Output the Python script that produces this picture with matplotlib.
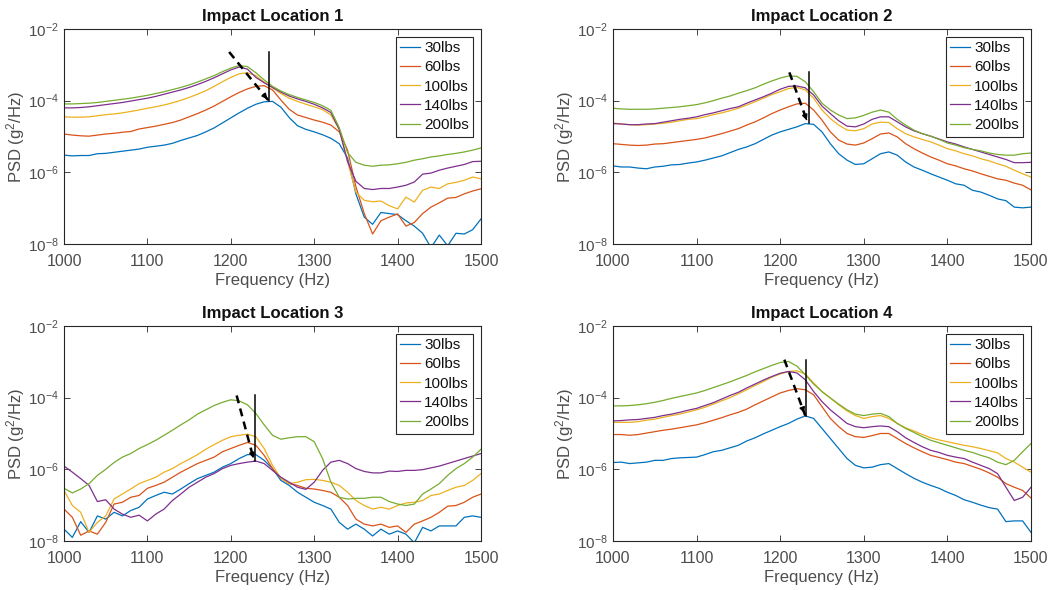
import numpy as np
import matplotlib.pyplot as plt
from matplotlib.ticker import FixedLocator, NullLocator, LogFormatterSciNotation

plt.rcParams['font.family'] = ['Liberation Sans', 'DejaVu Sans']
plt.rcParams['mathtext.fontset'] = 'custom'
plt.rcParams['mathtext.rm'] = 'Liberation Sans'
plt.rcParams['mathtext.it'] = 'Liberation Sans:italic'

# frequency grid (Hz), 10 Hz steps
freq = np.arange(1000, 1501, 10)
loads = ['30lbs', '60lbs', '100lbs', '140lbs', '200lbs']
colors = ['#0072BD', '#D95319', '#EDB120', '#7E2F8E', '#77AC30']

# PSD, as log10(g^2/Hz)
p1_30 = [-5.52, -5.54, -5.53, -5.53, -5.48, -5.47, -5.44, -5.41, -5.38, -5.35,
         -5.30, -5.27, -5.24, -5.19, -5.11, -5.04, -4.97, -4.87, -4.76, -4.62,
         -4.48, -4.34, -4.21, -4.10, -4.03, -4.02, -4.18, -4.47, -4.70, -4.80,
         -4.87, -4.95, -5.05, -5.20, -5.60, -6.60, -7.25, -7.45, -7.12, -7.15,
         -7.18, -7.35, -7.50, -7.70, -8.10, -7.75, -8.05, -7.70, -7.72, -7.60, -7.30]
p1_60 = [-4.93, -4.96, -4.98, -4.99, -4.96, -4.93, -4.91, -4.88, -4.86, -4.79,
         -4.75, -4.71, -4.66, -4.61, -4.54, -4.45, -4.36, -4.26, -4.15, -4.02,
         -3.89, -3.77, -3.67, -3.60, -3.58, -3.70, -3.98, -4.24, -4.40, -4.47,
         -4.54, -4.60, -4.68, -4.87, -5.38, -6.40, -7.15, -7.72, -7.35, -7.25,
         -7.16, -7.50, -7.40, -7.15, -6.97, -6.85, -6.72, -6.70, -6.60, -6.52, -6.46]
p1_100 = [-4.45, -4.46, -4.46, -4.45, -4.42, -4.39, -4.37, -4.34, -4.30, -4.26,
          -4.21, -4.17, -4.12, -4.06, -3.99, -3.91, -3.82, -3.72, -3.60, -3.47,
          -3.35, -3.25, -3.22, -3.30, -3.48, -3.64, -3.80, -3.93, -4.02, -4.10,
          -4.17, -4.25, -4.40, -4.80, -5.70, -6.55, -6.78, -6.82, -6.80, -6.93,
          -7.02, -6.69, -6.83, -6.50, -6.41, -6.45, -6.32, -6.28, -6.22, -6.13, -6.18]
p1_140 = [-4.20, -4.20, -4.19, -4.17, -4.14, -4.11, -4.08, -4.05, -4.01, -3.97,
          -3.93, -3.88, -3.82, -3.76, -3.70, -3.63, -3.55, -3.46, -3.36, -3.25,
          -3.14, -3.06, -3.12, -3.35, -3.50, -3.63, -3.76, -3.87, -3.95, -4.02,
          -4.10, -4.20, -4.33, -4.80, -5.70, -6.25, -6.45, -6.48, -6.45, -6.45,
          -6.41, -6.36, -6.27, -6.05, -6.02, -5.94, -5.88, -5.83, -5.78, -5.70, -5.69]
p1_200 = [-4.09, -4.09, -4.08, -4.07, -4.05, -4.02, -3.99, -3.96, -3.93, -3.89,
          -3.85, -3.80, -3.75, -3.69, -3.63, -3.56, -3.48, -3.39, -3.30, -3.19,
          -3.09, -3.02, -3.05, -3.22, -3.42, -3.60, -3.73, -3.83, -3.91, -3.98,
          -4.05, -4.14, -4.27, -4.75, -5.45, -5.72, -5.80, -5.83, -5.80, -5.79,
          -5.76, -5.72, -5.66, -5.62, -5.57, -5.54, -5.50, -5.47, -5.43, -5.38, -5.32]

p2_30 = [-5.82, -5.85, -5.85, -5.88, -5.90, -5.85, -5.83, -5.79, -5.78, -5.74,
         -5.71, -5.66, -5.60, -5.54, -5.45, -5.36, -5.29, -5.20, -5.08, -4.96,
         -4.87, -4.80, -4.73, -4.64, -4.66, -4.87, -5.20, -5.48, -5.66, -5.78,
         -5.76, -5.62, -5.48, -5.43, -5.52, -5.71, -5.85, -5.94, -6.04, -6.13,
         -6.22, -6.32, -6.36, -6.50, -6.55, -6.64, -6.74, -6.79, -6.97, -6.99, -6.97]
p2_60 = [-5.20, -5.22, -5.24, -5.25, -5.24, -5.21, -5.20, -5.17, -5.14, -5.11,
         -5.08, -5.04, -4.98, -4.92, -4.85, -4.78, -4.68, -4.59, -4.48, -4.36,
         -4.26, -4.17, -4.09, -4.07, -4.26, -4.54, -4.87, -5.10, -5.21, -5.24,
         -5.18, -5.06, -4.93, -4.90, -5.01, -5.20, -5.34, -5.46, -5.57, -5.66,
         -5.76, -5.82, -5.90, -5.96, -6.04, -6.11, -6.18, -6.22, -6.30, -6.36, -6.49]
p2_100 = [-4.62, -4.65, -4.67, -4.68, -4.67, -4.65, -4.63, -4.60, -4.56, -4.52,
          -4.50, -4.45, -4.39, -4.34, -4.28, -4.21, -4.12, -4.03, -3.93, -3.83,
          -3.75, -3.66, -3.63, -3.70, -3.93, -4.26, -4.50, -4.68, -4.82, -4.84,
          -4.78, -4.65, -4.60, -4.61, -4.78, -4.92, -5.01, -5.08, -5.15, -5.24,
          -5.34, -5.40, -5.48, -5.54, -5.62, -5.68, -5.76, -5.83, -5.94, -6.04, -6.13]
p2_140 = [-4.64, -4.65, -4.67, -4.67, -4.65, -4.64, -4.60, -4.56, -4.52, -4.49,
          -4.45, -4.39, -4.34, -4.28, -4.22, -4.17, -4.07, -3.98, -3.89, -3.79,
          -3.68, -3.60, -3.59, -3.64, -3.84, -4.15, -4.36, -4.56, -4.71, -4.73,
          -4.65, -4.52, -4.45, -4.45, -4.59, -4.73, -4.84, -4.92, -4.99, -5.07,
          -5.15, -5.21, -5.29, -5.36, -5.43, -5.50, -5.57, -5.64, -5.73, -5.73, -5.72]
p2_200 = [-4.21, -4.23, -4.24, -4.24, -4.24, -4.23, -4.21, -4.19, -4.17, -4.14,
          -4.11, -4.06, -4.00, -3.93, -3.87, -3.79, -3.72, -3.64, -3.54, -3.45,
          -3.37, -3.31, -3.32, -3.47, -3.75, -4.07, -4.26, -4.40, -4.50, -4.48,
          -4.41, -4.32, -4.26, -4.32, -4.52, -4.68, -4.82, -4.92, -4.99, -5.08,
          -5.18, -5.24, -5.31, -5.36, -5.40, -5.46, -5.50, -5.52, -5.52, -5.48, -5.46]

p3_30 = [-7.67, -7.90, -7.46, -7.76, -7.30, -7.39, -7.20, -7.30, -7.15, -7.06,
         -6.83, -6.73, -6.64, -6.69, -6.55, -6.40, -6.26, -6.17, -6.08, -5.94,
         -5.84, -5.70, -5.59, -5.59, -5.75, -5.98, -6.31, -6.45, -6.64, -6.78,
         -6.92, -7.01, -7.11, -7.48, -7.67, -7.53, -7.67, -7.86, -7.67, -7.81,
         -7.72, -7.81, -8.05, -7.62, -7.72, -7.58, -7.58, -7.58, -7.34, -7.30, -7.34]
p3_60 = [-7.11, -7.34, -7.84, -7.72, -7.81, -7.48, -6.97, -6.92, -6.78, -6.73,
         -6.53, -6.45, -6.36, -6.22, -6.08, -5.96, -5.84, -5.75, -5.66, -5.51,
         -5.42, -5.33, -5.25, -5.33, -5.61, -5.98, -6.25, -6.40, -6.45, -6.53,
         -6.55, -6.59, -6.64, -6.78, -7.01, -7.39, -7.53, -7.58, -7.53, -7.62,
         -7.58, -7.76, -7.53, -7.44, -7.34, -7.20, -7.03, -7.01, -6.92, -6.78, -6.69]
p3_100 = [-6.59, -7.01, -7.20, -7.76, -7.48, -7.30, -6.83, -6.69, -6.55, -6.40,
          -6.31, -6.22, -6.08, -5.98, -5.84, -5.72, -5.59, -5.44, -5.31, -5.19,
          -5.09, -5.05, -5.02, -5.09, -5.42, -5.89, -6.25, -6.40, -6.36, -6.29,
          -6.28, -6.31, -6.36, -6.45, -6.64, -6.87, -7.01, -7.11, -7.06, -7.11,
          -7.01, -6.94, -6.92, -6.87, -6.73, -6.69, -6.59, -6.50, -6.45, -6.31, -6.12]
p3_140 = [-5.91, -6.08, -6.26, -6.45, -6.90, -6.85, -7.11, -7.25, -7.34, -7.28,
          -7.44, -7.25, -7.11, -6.87, -6.69, -6.50, -6.36, -6.22, -6.12, -5.98,
          -5.89, -5.84, -5.80, -5.77, -5.84, -6.03, -6.22, -6.36, -6.50, -6.56,
          -6.36, -6.03, -5.80, -5.75, -5.84, -5.98, -6.06, -6.10, -6.10, -6.05,
          -6.06, -6.03, -6.03, -6.01, -5.96, -5.91, -5.84, -5.77, -5.70, -5.63, -5.56]
p3_200 = [-6.53, -6.66, -6.55, -6.40, -6.17, -6.00, -5.81, -5.66, -5.56, -5.42,
          -5.31, -5.19, -5.05, -4.91, -4.76, -4.62, -4.46, -4.34, -4.22, -4.13,
          -4.06, -4.09, -4.20, -4.44, -4.76, -5.05, -5.16, -5.12, -5.09, -5.09,
          -5.23, -5.70, -6.36, -6.78, -6.83, -6.81, -6.81, -6.78, -6.78, -6.90,
          -6.97, -7.01, -6.97, -6.69, -6.55, -6.40, -6.17, -5.98, -5.84, -5.66, -5.44]

p4_30 = [-5.81, -5.80, -5.84, -5.82, -5.80, -5.75, -5.75, -5.70, -5.68, -5.67,
         -5.66, -5.59, -5.51, -5.47, -5.40, -5.33, -5.21, -5.12, -5.01, -4.91,
         -4.81, -4.72, -4.60, -4.51, -4.58, -4.86, -5.14, -5.42, -5.70, -5.89,
         -5.96, -5.94, -5.87, -5.84, -5.98, -6.12, -6.25, -6.36, -6.45, -6.53,
         -6.64, -6.73, -6.85, -6.92, -7.00, -7.07, -7.11, -7.46, -7.44, -7.44, -7.76]
p4_60 = [-5.03, -5.03, -5.05, -5.03, -4.99, -4.95, -4.91, -4.88, -4.84, -4.80,
         -4.76, -4.70, -4.63, -4.56, -4.48, -4.41, -4.32, -4.20, -4.09, -3.98,
         -3.87, -3.80, -3.75, -3.78, -3.92, -4.25, -4.58, -4.81, -5.00, -5.09,
         -5.11, -5.06, -5.00, -5.00, -5.14, -5.28, -5.40, -5.51, -5.61, -5.67,
         -5.73, -5.80, -5.84, -5.92, -6.00, -6.10, -6.22, -6.40, -6.50, -6.59, -6.80]
p4_100 = [-4.69, -4.69, -4.69, -4.67, -4.63, -4.60, -4.55, -4.50, -4.46, -4.40,
          -4.34, -4.27, -4.18, -4.09, -4.00, -3.89, -3.78, -3.66, -3.55, -3.43,
          -3.34, -3.27, -3.25, -3.34, -3.59, -3.83, -4.01, -4.20, -4.37, -4.50,
          -4.58, -4.53, -4.50, -4.58, -4.72, -4.84, -4.93, -5.03, -5.12, -5.18,
          -5.23, -5.28, -5.33, -5.37, -5.42, -5.48, -5.54, -5.70, -5.80, -5.94, -6.08]
p4_140 = [-4.65, -4.64, -4.62, -4.61, -4.58, -4.55, -4.50, -4.46, -4.41, -4.35,
          -4.30, -4.22, -4.14, -4.04, -3.94, -3.85, -3.73, -3.62, -3.51, -3.41,
          -3.32, -3.27, -3.31, -3.50, -3.83, -4.11, -4.34, -4.53, -4.72, -4.81,
          -4.84, -4.81, -4.79, -4.81, -4.95, -5.12, -5.25, -5.37, -5.47, -5.53,
          -5.61, -5.66, -5.70, -5.80, -5.89, -5.98, -6.12, -6.50, -6.87, -6.78, -6.50]
p4_200 = [-4.23, -4.23, -4.22, -4.20, -4.17, -4.13, -4.08, -4.02, -3.97, -3.92,
          -3.87, -3.80, -3.72, -3.64, -3.56, -3.47, -3.38, -3.28, -3.19, -3.10,
          -3.02, -2.99, -3.12, -3.36, -3.62, -3.83, -4.01, -4.18, -4.34, -4.46,
          -4.50, -4.46, -4.44, -4.53, -4.72, -4.86, -4.97, -5.09, -5.19, -5.26,
          -5.33, -5.40, -5.47, -5.53, -5.61, -5.68, -5.80, -5.87, -5.75, -5.51, -5.28]

# peak-shift arrows: (f_start, logPSD_start, f_end, logPSD_end)
arrows = [(1198, -2.64, 1246, -4.02),
          (1211, -3.21, 1233, -4.62),
          (1207, -3.94, 1228, -5.77),
          (1205, -2.94, 1230, -4.50)]
# vertical marker lines: (f, logPSD_top, logPSD_bottom)
vlines = [(1246, -2.64, -4.02),
          (1234, -3.21, -4.62),
          (1229, -3.94, -5.77),
          (1231, -2.94, -4.50)]

panels = [[p1_30, p1_60, p1_100, p1_140, p1_200],
          [p2_30, p2_60, p2_100, p2_140, p2_200],
          [p3_30, p3_60, p3_100, p3_140, p3_200],
          [p4_30, p4_60, p4_100, p4_140, p4_200]]

fig = plt.figure(figsize=(10.53, 5.90), dpi=100)
pos = [[0.0608, 0.5864, 0.396, 0.3644],
       [0.5821, 0.5864, 0.397, 0.3644],
       [0.0608, 0.0831, 0.396, 0.3644],
       [0.5821, 0.0831, 0.397, 0.3644]]
axc = '#262626'
txc = '#4d4d4d'

for i in range(4):
    ax = fig.add_axes(pos[i])
    for j in range(5):
        ax.plot(freq, 10.0 ** np.array(panels[i][j]), color=colors[j], lw=0.9, label=loads[j])
    fs, ls, fe, le = arrows[i]
    ax.plot([fs, fe], [10 ** ls, 10 ** le], color='k', lw=1.8, ls=(0, (3.2, 2.2)))
    ax.annotate('', xy=(fe, 10 ** le), xytext=(fe - (fe - fs) * 0.12, 10 ** (le - (le - ls) * 0.12)),
                arrowprops=dict(arrowstyle='-|>', color='k', lw=1.0, mutation_scale=8))
    vf, vt, vb = vlines[i]
    ax.plot([vf, vf], [10 ** vt, 10 ** vb], color='k', lw=1.1)

    ax.set_yscale('log')
    ax.set_xlim(1000, 1500)
    ax.set_ylim(1e-8, 1e-2)
    ax.yaxis.set_major_locator(FixedLocator([1e-8, 1e-6, 1e-4, 1e-2]))
    ax.yaxis.set_major_formatter(LogFormatterSciNotation())
    ax.yaxis.set_minor_locator(NullLocator())
    ax.set_xticks(np.arange(1000, 1501, 100))
    ax.tick_params(direction='in', top=True, right=True, length=4, width=0.6,
                   colors=axc, labelcolor=txc)
    ax.tick_params(axis='x', pad=7, labelsize=11.5)
    ax.tick_params(axis='y', pad=4, labelsize=11)
    for s in ax.spines.values():
        s.set_color(axc)
        s.set_linewidth(0.8)
    ax.set_title('Impact Location %d' % (i + 1), fontsize=12, fontweight='bold', color='#111111', pad=6)
    ax.set_xlabel('Frequency (Hz)', fontsize=12, color=txc, labelpad=3)
    ax.set_ylabel('PSD (g$^2$/Hz)', fontsize=12, color=txc)
    ax.yaxis.set_label_coords(-0.088, 0.5)
    leg = ax.legend(loc='upper right', fontsize=11, handlelength=1.3, handletextpad=0.25,
                    labelspacing=0.34, borderpad=0.3, borderaxespad=0.5, fancybox=False,
                    framealpha=1, edgecolor=axc)
    leg.get_frame().set_linewidth(0.8)
    for t in leg.get_texts():
        t.set_color('#111111')

plt.savefig('out.png', dpi=100)
plt.close()
